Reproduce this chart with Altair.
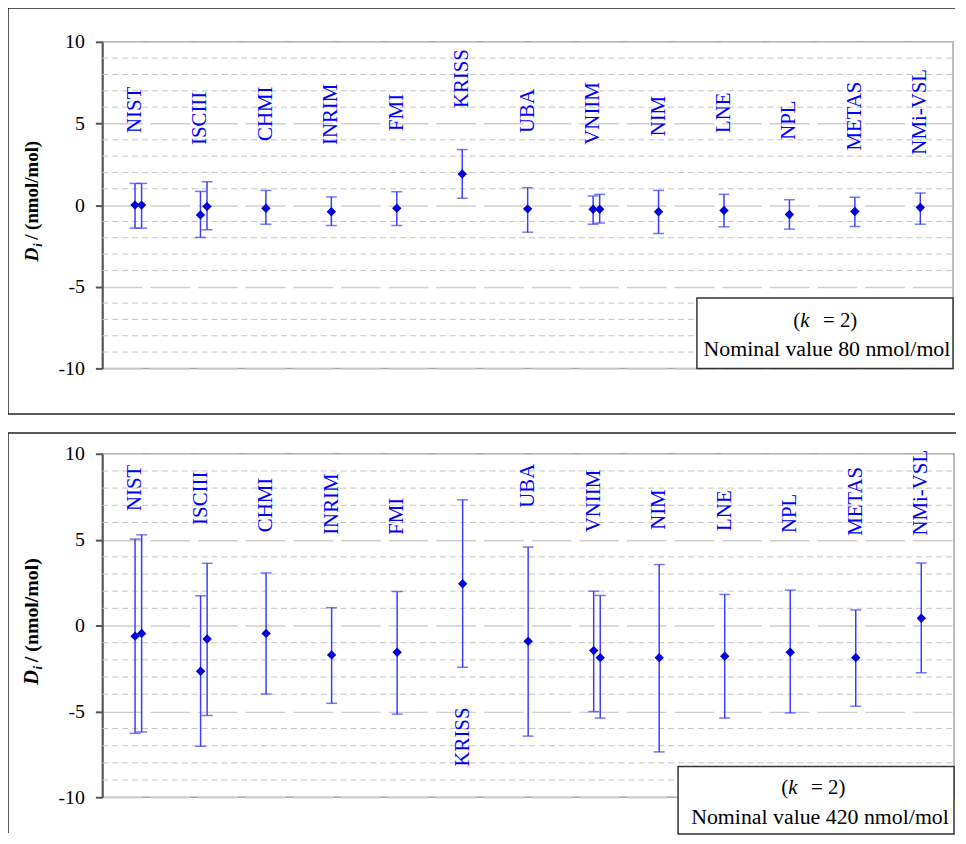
import altair as alt
import pandas as pd

labs = ["NIST", "ISCIII", "CHMI", "INRIM", "FMI", "KRISS", "UBA", "VNIIM",
        "NIM", "LNE", "NPL", "METAS", "NMi-VSL"]

# one entry per reported result (NIST, ISCIII and VNIIM reported two)
res_lab = ["NIST", "NIST", "ISCIII", "ISCIII", "CHMI", "INRIM", "FMI", "KRISS",
           "UBA", "VNIIM", "VNIIM", "NIM", "LNE", "NPL", "METAS", "NMi-VSL"]

# nominal value 80 nmol/mol
top_d = [0.0, 0.0, -0.6, -0.09, -0.19, -0.41, -0.19, 1.9,
         -0.23, -0.25, -0.25, -0.41, -0.33, -0.58, -0.39, -0.15]
top_hi = [1.33, 1.33, 0.84, 1.43, 0.9, 0.5, 0.82, 3.4,
          1.07, 0.56, 0.66, 0.9, 0.66, 0.33, 0.48, 0.74]
top_lo = [-1.41, -1.41, -1.98, -1.51, -1.17, -1.25, -1.25, 0.42,
          -1.66, -1.17, -1.1, -1.74, -1.33, -1.47, -1.31, -1.17]
top_label_y = [4.42, 3.68, 3.93, 3.68, 4.54, 5.94, 4.42, 3.70, 4.21, 4.42, 4.0, 3.34, 3.09]

# nominal value 420 nmol/mol
bot_d = [-0.62, -0.46, -2.66, -0.79, -0.46, -1.71, -1.56, 2.43,
         -0.92, -1.46, -1.87, -1.87, -1.79, -1.56, -1.87, 0.42]
bot_hi = [5.03, 5.28, 1.73, 3.62, 3.06, 1.04, 1.98, 7.32,
          4.57, 2.0, 1.75, 3.55, 1.81, 2.06, 0.91, 3.64]
bot_lo = [-6.28, -6.2, -7.03, -5.24, -3.99, -4.53, -5.16, -2.43,
          -6.44, -5.01, -5.39, -7.36, -5.39, -5.09, -4.70, -2.75]
bot_label_y = [6.67, 5.86, 5.43, 5.28, 5.28, -8.21, 6.86, 5.43, 5.57, 5.51, 5.38, 5.22, 5.24]

major_ticks = [-10, -5, 0, 5, 10]
minor_grid = [-9, -8, -7, -6, -4, -3, -2, -1, 1, 2, 3, 4, 6, 7, 8, 9]

FONT = "Liberation Serif"
BLUE = "#0000ff"
BAR = "#3d3dff"
PT = "#0000d8"


def panel(d, hi, lo, label_y, W, H, frame_top, frame_bottom, draw_bottom, box, k_x, k_y,
          nom_x, nom_y, nominal, title_y, title_scale):
    pos = [labs.index(l) + 1 + 0.1 * res_lab[:i].count(l) for i, l in enumerate(res_lab)]
    df = pd.DataFrame({"lab": res_lab, "pos": pos, "d": d, "hi": hi, "lo": lo})
    dl = pd.DataFrame({"lab": labs, "pos": list(range(1, len(labs) + 1)), "ly": label_y})
    dg = pd.DataFrame({"g": minor_grid})
    one = pd.DataFrame({"a": [0]})

    xs = alt.Scale(domain=[0.5, len(labs) + 0.5], nice=False, zero=False)
    ys = alt.Scale(domain=[-10, 10], nice=False, zero=False)
    yax = alt.Axis(values=major_ticks, title=None, labelFont=FONT, labelFontSize=20,
                   labelColor="black", labelPadding=11, tickSize=7, tickWidth=2,
                   tickColor="#555555", domainColor="#555555", domainWidth=2,
                   grid=True, gridColor="#cfcfcf", gridWidth=1.5, gridDash=[40, 8],
                   labelExpr="datum.value < 0 ? '-' + abs(datum.value) : '' + datum.value")
    X = alt.X("pos:Q", scale=xs, axis=None)

    grid = alt.Chart(dg).mark_rule(color="#c4c4c4", strokeDash=[6, 4], strokeWidth=1).encode(
        x=alt.value(0), x2=alt.value(W), y=alt.Y("g:Q", scale=ys, axis=yax))
    base = alt.Chart(df)
    bars = base.mark_rule(color=BAR, strokeWidth=1.5).encode(
        x=X, y=alt.Y("lo:Q", scale=ys, axis=yax), y2="hi:Q")
    cap_hi = base.mark_tick(orient="horizontal", size=11, thickness=1.5, color=BAR).encode(
        x=X, y=alt.Y("hi:Q", scale=ys, axis=yax))
    cap_lo = base.mark_tick(orient="horizontal", size=11, thickness=1.5, color=BAR).encode(
        x=X, y=alt.Y("lo:Q", scale=ys, axis=yax))
    pts = base.mark_point(shape="diamond", filled=True, size=90, color=PT, opacity=1).encode(
        x=X, y=alt.Y("d:Q", scale=ys, axis=yax))
    labels = alt.Chart(dl).mark_text(angle=270, align="left", baseline="middle", font=FONT,
                                     fontSize=21, color=BLUE).encode(
        x=X, y=alt.Y("ly:Q", scale=ys, axis=yax), text="lab:N")

    layers = [grid, bars, cap_hi, cap_lo, pts, labels]

    # outer frame of the panel
    fr = alt.Chart(one).mark_rule(color="#222222", strokeWidth=1.5)
    layers.append(fr.encode(x=alt.value(-95), y=alt.value(frame_top), y2=alt.value(frame_bottom)))
    layers.append(fr.encode(x=alt.value(-95), x2=alt.value(W + 2), y=alt.value(frame_top)))
    if draw_bottom:
        layers.append(fr.encode(x=alt.value(-95), x2=alt.value(W + 2), y=alt.value(frame_bottom)))

    # y-axis title: D (italic) with subscript i, then "/ (nmol/mol)"
    ty = H / 2 + title_y
    fs = 19 * title_scale
    layers.append(alt.Chart(one).mark_text(text="D", angle=270, align="left", baseline="alphabetic",
                                           font=FONT, fontSize=fs + 1, fontWeight="bold",
                                           fontStyle="italic", color="black").encode(
        x=alt.value(-65), y=alt.value(ty)))
    layers.append(alt.Chart(one).mark_text(text="i", angle=270, align="left", baseline="alphabetic",
                                           font=FONT, fontSize=fs * 0.65, fontWeight="bold",
                                           fontStyle="italic", color="black").encode(
        x=alt.value(-61), y=alt.value(ty - 15 * title_scale)))
    layers.append(alt.Chart(one).mark_text(text="/ (nmol/mol)", angle=270, align="left",
                                           baseline="alphabetic", font=FONT, fontSize=fs,
                                           fontWeight="bold", color="black").encode(
        x=alt.value(-65), y=alt.value(ty - 22 * title_scale)))

    # legend box
    layers.append(alt.Chart(one).mark_rect(fill="white", stroke="#333333", strokeWidth=1.5).encode(
        x=alt.value(box[0]), x2=alt.value(box[1]), y=alt.value(box[2]), y2=alt.value(box[3])))
    tx = dict(font=FONT, fontSize=21, color="black", baseline="middle")
    layers.append(alt.Chart(one).mark_text(text="(", align="left", **tx).encode(
        x=alt.value(k_x), y=alt.value(k_y)))
    layers.append(alt.Chart(one).mark_text(text="k", align="left", fontStyle="italic", **tx).encode(
        x=alt.value(k_x + 7), y=alt.value(k_y)))
    layers.append(alt.Chart(one).mark_text(text="= 2)", align="left", **tx).encode(
        x=alt.value(k_x + 30), y=alt.value(k_y)))
    tx["fontSize"] = 22
    layers.append(alt.Chart(one).mark_text(text=nominal, align="center", **tx).encode(
        x=alt.value(nom_x), y=alt.value(nom_y)))

    return alt.layer(*layers).properties(width=W, height=H)


top = panel(top_d, top_hi, top_lo, top_label_y, 857, 329, -34, 375, True,
            (599, 857, 258, 329), 696, 281, 730, 309, "Nominal value 80 nmol/mol", 57, 1.0)
bottom = panel(bot_d, bot_hi, bot_lo, bot_label_y, 858, 346, -21, 382, False,
               (580, 858, 315, 383), 684, 337, 723, 366, "Nominal value 420 nmol/mol", 60, 1.05)

chart = alt.vconcat(top, bottom, spacing=15,
                    padding={"left": -2, "top": -5, "right": 0, "bottom": 0}).configure_view(
    stroke="#a6a6a6", strokeWidth=1.5)

chart.save("out.html", embed_options={"renderer": "svg", "actions": False})
